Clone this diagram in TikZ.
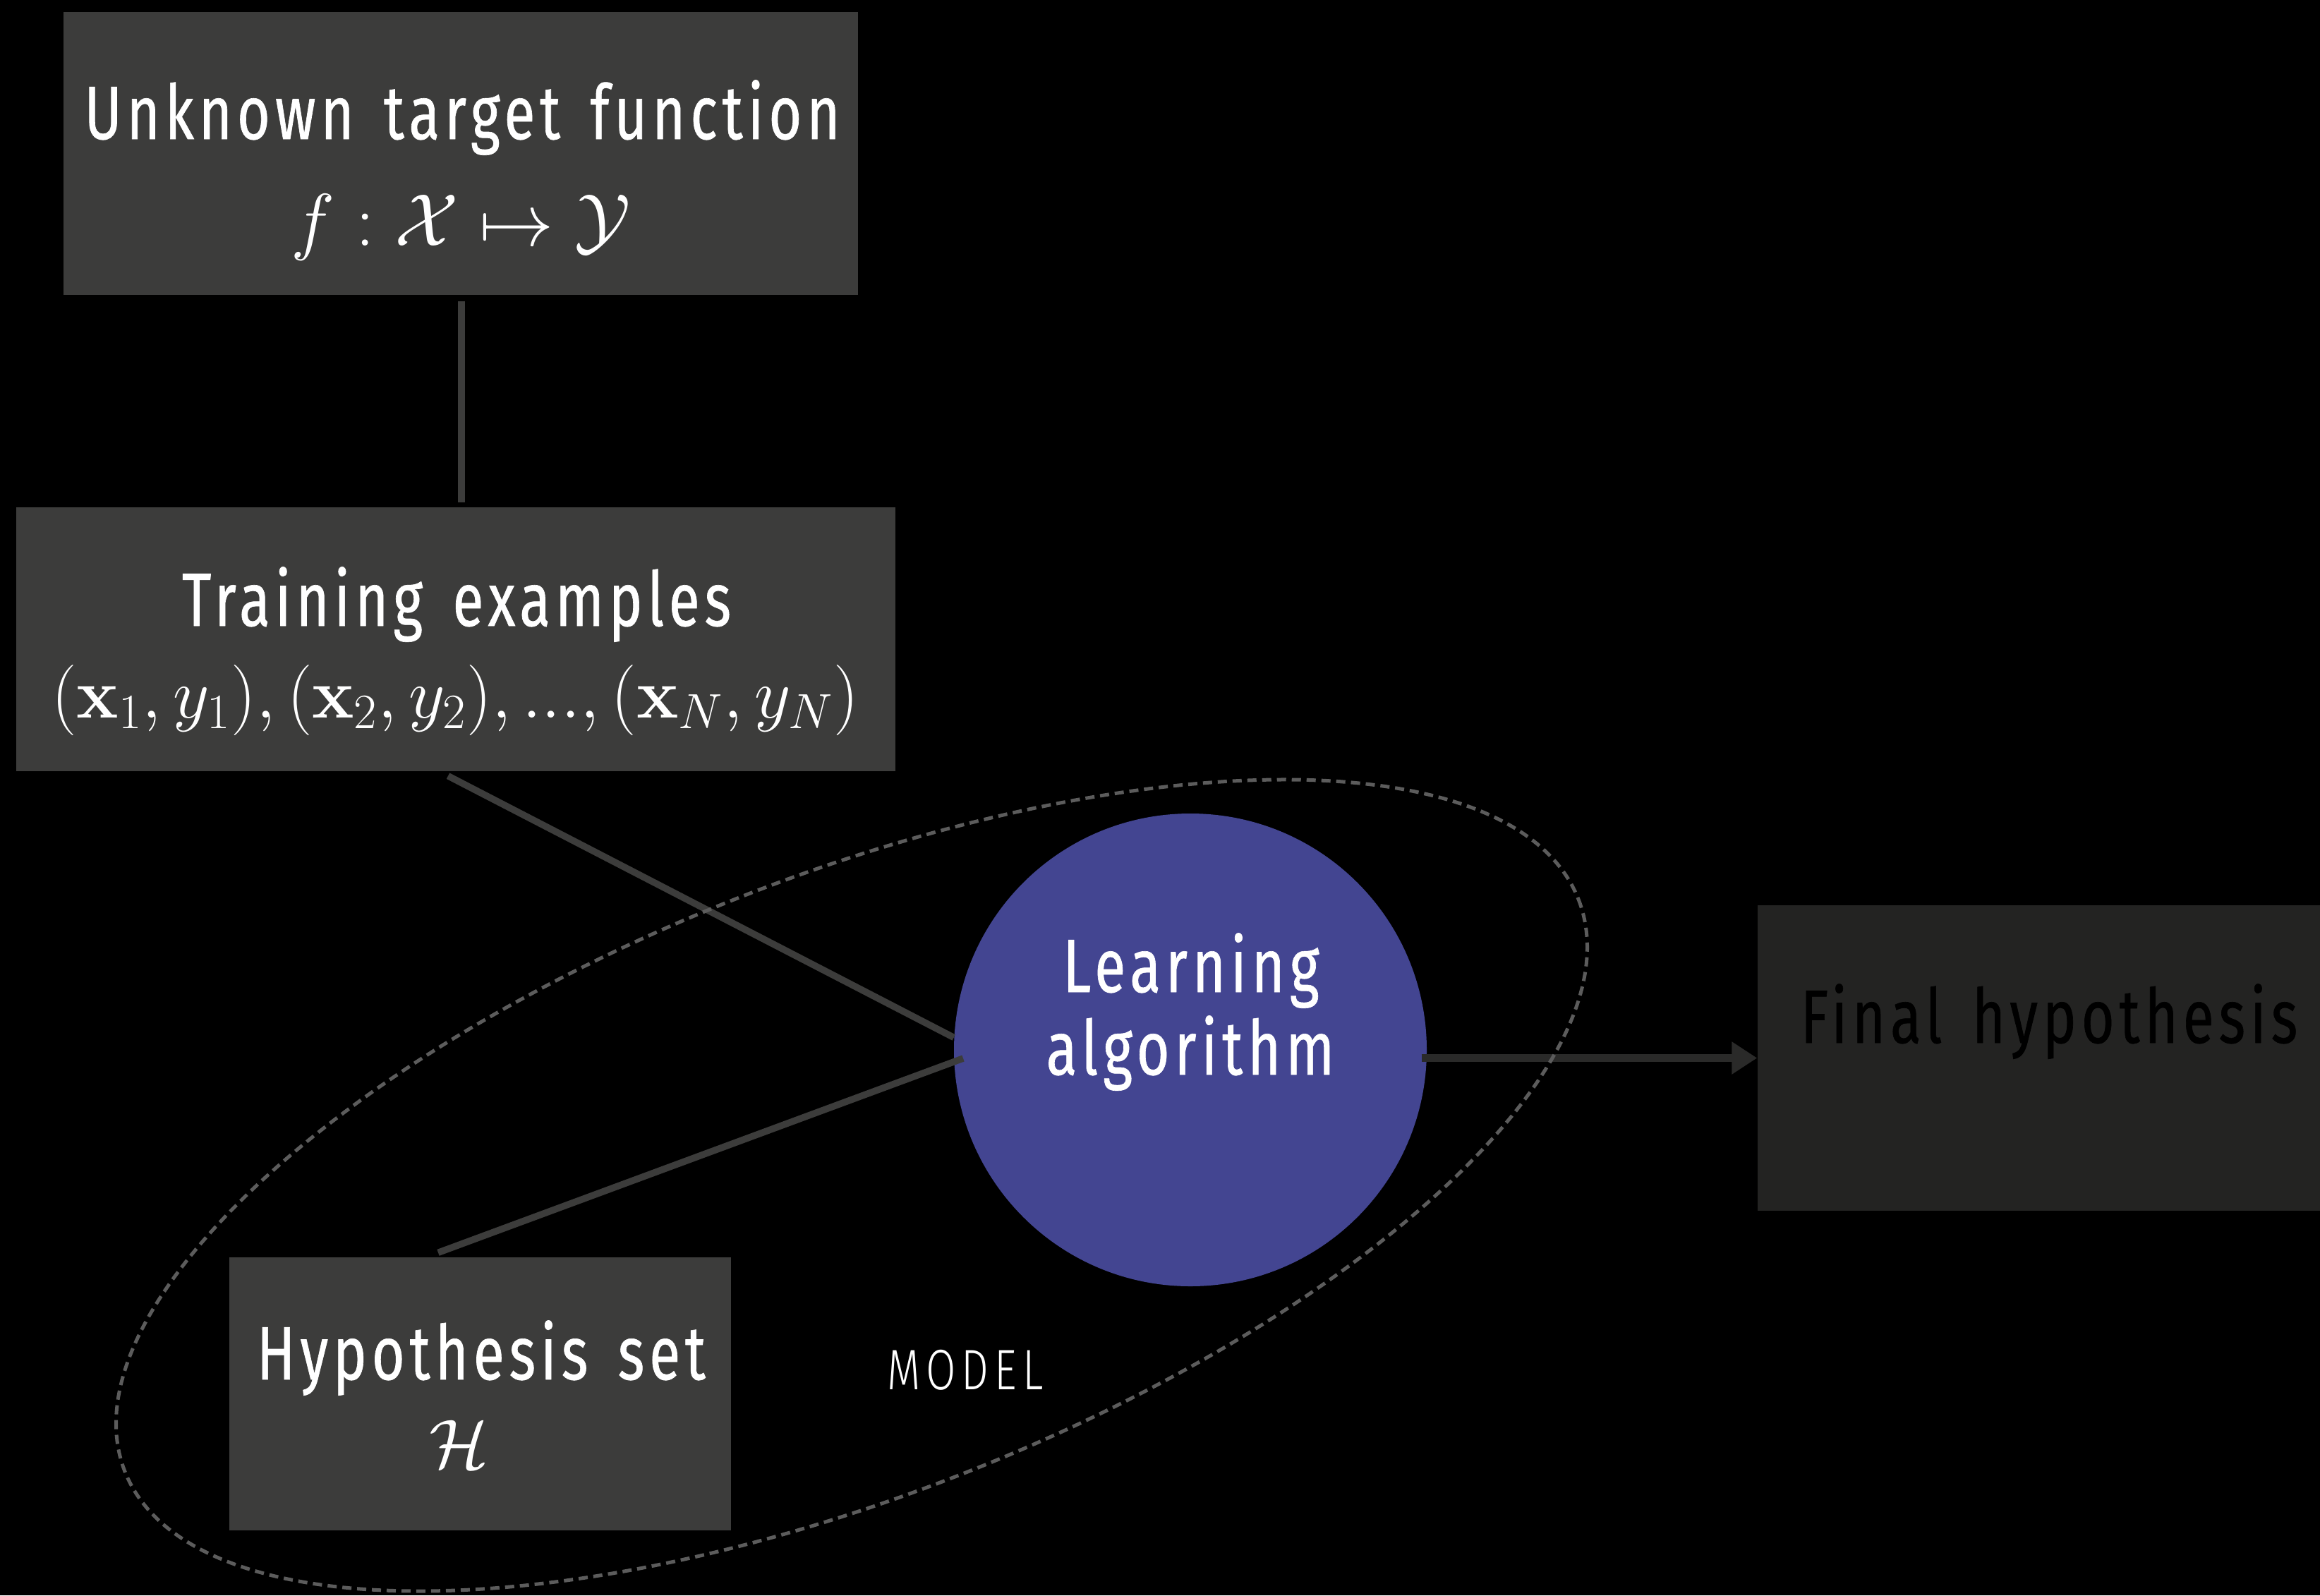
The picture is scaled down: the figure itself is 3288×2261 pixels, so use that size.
\RequirePackage{fix-cm}
\documentclass[tikz,border=0pt]{standalone}
\usepackage{amsmath}
\usepackage[no-math]{fontspec}
\usetikzlibrary{arrows.meta,calc}

\newfontfamily\labelfont{Fira Sans}[FakeStretch=0.75,LetterSpace=6.5,WordSpace=1.5,FakeBold=0.6]
\newfontfamily\modelfont{Fira Sans Light}[FakeStretch=0.76,LetterSpace=10]

\definecolor{boxgray}{HTML}{3C3C3B}
\definecolor{finalgray}{HTML}{232322}
\definecolor{linkgray}{HTML}{3C3C3B}
\definecolor{arrowgray}{HTML}{2A2A29}
\definecolor{ringgray}{HTML}{5C5C5C}
\definecolor{learnblue}{HTML}{434591}

\begin{document}
\begin{tikzpicture}[x=0.1mm,y=-0.1mm,
  box/.style={rectangle, fill=boxgray, draw=none, inner sep=0pt},
  title/.style={text=white, font=\labelfont\fontsize{30.5}{36}\selectfont, anchor=base, inner sep=0pt},
  formula/.style={text=white, anchor=base, inner sep=0pt},
  link/.style={draw=linkgray, line width=0.95mm},
  arrowlink/.style={draw=arrowgray, line width=1.05mm, -{Triangle[length=3.6mm,width=4.4mm]}},
  modelring/.style={draw=ringgray, line width=0.5mm, dash pattern=on 1.3mm off 0.8mm}]

% canvas
\fill[black] (0,0) rectangle (3288,2261);
\useasboundingbox (0,0) rectangle (3288,2261);

% unknown target function
\node[box, minimum width=112.6mm, minimum height=40.1mm] (target) at (653,217.5) {};
\node[title] (target-title) at (655,197) {Unknown target function};
\node[formula, font=\fontsize{30}{36}\selectfont] (target-map) at (653,348) {$f : \mathcal{X} \mapsto \mathcal{Y}$};

% training examples
\node[box, minimum width=124.6mm, minimum height=37.4mm] (train) at (646,906) {};
\node[title] (train-title) at (647,887) {Training examples};
\node[formula, font=\fontsize{28.5}{34}\selectfont] (train-set) at (645,1017) {$(\mathbf{x}_1, y_1), (\mathbf{x}_2, y_2), ..., (\mathbf{x}_N, y_N)$};

% hypothesis set
\node[box, minimum width=71.1mm, minimum height=38.7mm] (hyp) at (680.5,1975.5) {};
\node[title] (hyp-title) at (682,1955) {Hypothesis set};
\node[formula, font=\fontsize{28}{34}\selectfont] (hyp-set) at (651,2080) {$\mathcal{H}$};

% final hypothesis
\node[box, fill=finalgray, minimum width=82.9mm, minimum height=43.3mm] (final) at (2905.5,1499.5) {};
\node[title, text=black] (final-title) at (2904,1478) {Final hypothesis};

% learning algorithm
\node[circle, fill=learnblue, draw=none, minimum size=67mm, inner sep=0pt] (learn) at (1687,1488) {};
\node[title] (learn-line1) at (1688,1406) {Learning};
\node[title] (learn-line2) at (1687,1523) {algorithm};

% connectors
\draw[link] ($(target.south)+(1,8)$) -- ($(target.south |- train.north)+(1,-6)$);
\draw[link] ($(train.south)+(-11,6)$) -- (learn.177);
\draw[link] ($(hyp.north)+(-59.5,-6)$) -- ($(learn.center)+(-322,12)$);
\draw[arrowlink] ($(learn.east |- final.west)+(-8,0)$) -- (final.west);

% model boundary
\draw[modelring, rotate around={21.5:(1207,1680)}] (1207,1680) ellipse [x radius=1107, y radius=438];
\node[font=\modelfont\fontsize{23}{28}\selectfont, text=white, anchor=base, inner sep=0pt] (model) at (1368,1969) {MODEL};

\end{tikzpicture}
\end{document}
